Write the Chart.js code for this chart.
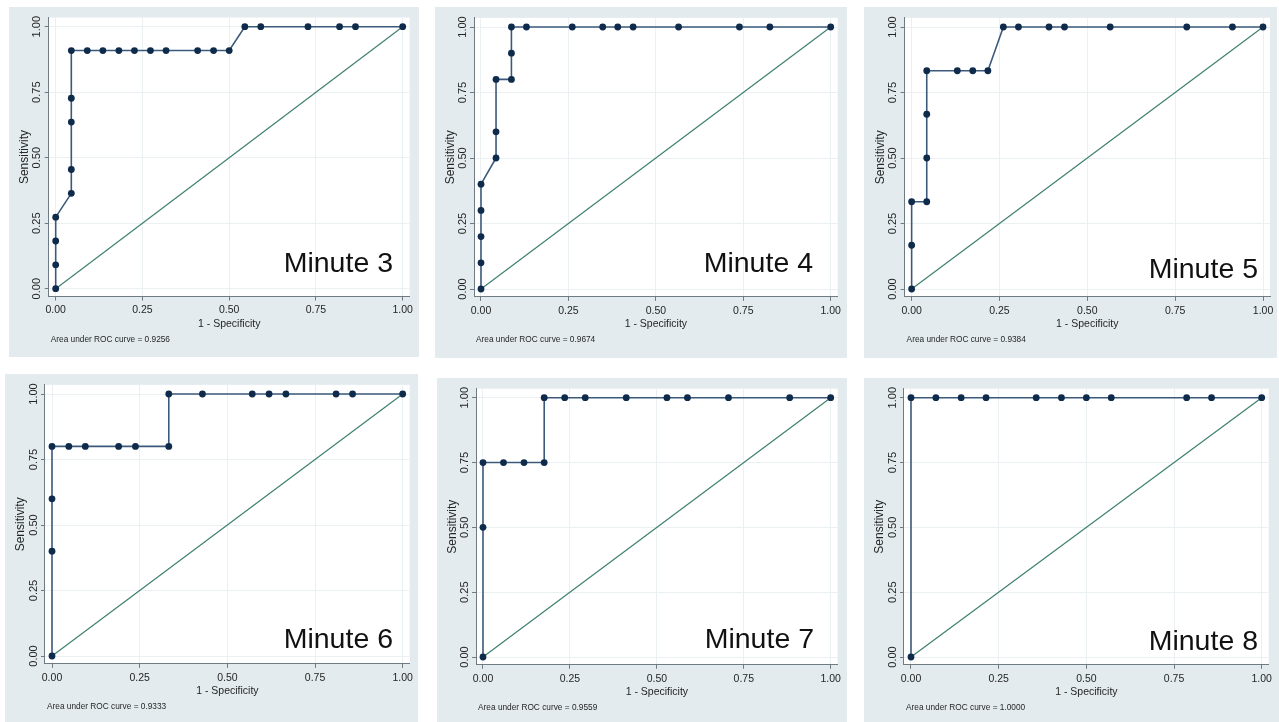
<!DOCTYPE html>
<html><head><meta charset="utf-8">
<script src="https://cdn.jsdelivr.net/npm/chart.js@4.4.1/dist/chart.umd.min.js"></script>
<style>
html,body{margin:0;padding:0;background:#fff;width:1279px;height:722px;overflow:hidden;}
.panel{position:absolute;background:#e3ebee;}
canvas{display:block;}
</style></head><body>
<script>
// ---------- data ----------
const axisTicks = [0, 0.25, 0.5, 0.75, 1];
const axisTickLabels = ['0.00', '0.25', '0.50', '0.75', '1.00'];
const panelTitles = ['Minute 3', 'Minute 4', 'Minute 5', 'Minute 6', 'Minute 7', 'Minute 8'];
const aucValues = ['0.9256', '0.9674', '0.9384', '0.9333', '0.9559', '1.0000'];
const xAxisTitle = '1 - Specificity';
const yAxisTitle = 'Sensitivity';
const aucPrefix = 'Area under ROC curve = ';

const chanceFpr = [0, 1];
const chanceSens = [0, 1];

const minute3Fpr  = [0, 0, 0, 0, 0.045, 0.045, 0.045, 0.045, 0.045, 0.091, 0.136, 0.182, 0.227, 0.273, 0.318, 0.409, 0.455, 0.5, 0.545, 0.591, 0.727, 0.818, 0.864, 1];
const minute3Sens = [0, 0.091, 0.182, 0.273, 0.364, 0.455, 0.636, 0.727, 0.909, 0.909, 0.909, 0.909, 0.909, 0.909, 0.909, 0.909, 0.909, 0.909, 1, 1, 1, 1, 1, 1];

const minute4Fpr  = [0, 0, 0, 0, 0, 0.043, 0.043, 0.043, 0.087, 0.087, 0.087, 0.13, 0.261, 0.348, 0.391, 0.435, 0.565, 0.739, 0.826, 1];
const minute4Sens = [0, 0.1, 0.2, 0.3, 0.4, 0.5, 0.6, 0.8, 0.8, 0.9, 1, 1, 1, 1, 1, 1, 1, 1, 1, 1];

const minute5Fpr  = [0, 0, 0, 0.043, 0.043, 0.043, 0.043, 0.13, 0.174, 0.217, 0.261, 0.304, 0.391, 0.435, 0.565, 0.783, 0.913, 1];
const minute5Sens = [0, 0.167, 0.333, 0.333, 0.5, 0.667, 0.833, 0.833, 0.833, 0.833, 1, 1, 1, 1, 1, 1, 1, 1];

const minute6Fpr  = [0, 0, 0, 0, 0.048, 0.095, 0.19, 0.238, 0.333, 0.333, 0.429, 0.571, 0.619, 0.667, 0.81, 0.857, 1];
const minute6Sens = [0, 0.4, 0.6, 0.8, 0.8, 0.8, 0.8, 0.8, 0.8, 1, 1, 1, 1, 1, 1, 1, 1];

const minute7Fpr  = [0, 0, 0, 0.059, 0.118, 0.176, 0.176, 0.235, 0.294, 0.412, 0.529, 0.588, 0.706, 0.882, 1];
const minute7Sens = [0, 0.5, 0.75, 0.75, 0.75, 0.75, 1, 1, 1, 1, 1, 1, 1, 1, 1];

const minute8Fpr  = [0, 0, 0.071, 0.143, 0.214, 0.357, 0.429, 0.5, 0.571, 0.786, 0.857, 1];
const minute8Sens = [0, 1, 1, 1, 1, 1, 1, 1, 1, 1, 1, 1];

const seriesFpr  = [minute3Fpr, minute4Fpr, minute5Fpr, minute6Fpr, minute7Fpr, minute8Fpr];
const seriesSens = [minute3Sens, minute4Sens, minute5Sens, minute6Sens, minute7Sens, minute8Sens];

// ---------- layout (page pixels) ----------
const XMIN = -0.02, XMAX = 1.02, YMIN = -0.03, YMAX = 1.035;
const Y_W = 31, X_H = 33.5;
const layouts = [
  {bg: [9, 7, 419, 357],    x0: 55.7,  x1: 402.7,  y0: 288.7, y1: 26.7,  lblR: 393,  lblB: 272},
  {bg: [435, 7, 847, 358],  x0: 481,   x1: 830.7,  y0: 289,   y1: 27,    lblR: 813,  lblB: 272},
  {bg: [864, 7, 1277, 358], x0: 911.7, x1: 1266,   y0: 289,   y1: 27,    lblR: 1258, lblB: 278},
  {bg: [5, 374, 418, 722],  x0: 52,    x1: 402.7,  y0: 656,   y1: 394,   lblR: 393,  lblB: 648},
  {bg: [437, 378, 847, 722],x0: 483,   x1: 830.7,  y0: 657,   y1: 397.7, lblR: 814,  lblB: 648},
  {bg: [864, 378, 1279, 722],x0: 911,  x1: 1261.7, y0: 657,   y1: 397.7, lblR: 1258, lblB: 650},
];

const FONT = "'Liberation Sans', Arial, Helvetica, sans-serif";
const AXIS_COL = '#6f7b83';
const TEXT_COL = '#262626';
const GRID_COL = '#ebf0f2';

const panelTextPlugin = {
  id: 'panelText',
  beforeDraw(chart) {
    const a = chart.chartArea, ctx = chart.ctx;
    ctx.save();
    ctx.fillStyle = '#ffffff';
    ctx.fillRect(a.left, a.top, a.right - a.left, a.bottom - a.top);
    ctx.restore();
  },
  afterDraw(chart, args, opts) {
    const ctx = chart.ctx, a = chart.chartArea, ys = chart.scales.y;
    ctx.save();
    ctx.fillStyle = TEXT_COL;
    ctx.font = '11px ' + FONT;
    ctx.textAlign = 'center';
    ctx.textBaseline = 'middle';
    axisTicks.forEach((v, i) => {
      const py = ys.getPixelForValue(v);
      ctx.save();
      ctx.translate(a.left - 11.5, py);
      ctx.rotate(-Math.PI / 2);
      ctx.fillText(axisTickLabels[i], 0, 0);
      ctx.restore();
    });
    ctx.font = '8.3px ' + FONT;
    ctx.textAlign = 'left';
    ctx.fillText(aucPrefix + opts.auc, a.left + 2, a.bottom + 43);
    ctx.font = '28.5px ' + FONT;
    ctx.fillStyle = '#111111';
    ctx.textAlign = 'right';
    ctx.textBaseline = 'alphabetic';
    ctx.fillText(opts.label, opts.lx, opts.ly);
    ctx.restore();
  }
};

layouts.forEach((lay, k) => {
  const [bx0, by0, bx1, by1] = lay.bg;
  const W = bx1 - bx0, H = by1 - by0;
  const ux = lay.x1 - lay.x0, uy = lay.y0 - lay.y1;
  const L = lay.x0 + XMIN * ux, R = lay.x0 + XMAX * ux;
  const B = lay.y0 - YMIN * uy, T = lay.y0 - YMAX * uy;

  const div = document.createElement('div');
  div.className = 'panel';
  div.style.left = bx0 + 'px'; div.style.top = by0 + 'px';
  div.style.width = W + 'px'; div.style.height = H + 'px';
  const cv = document.createElement('canvas');
  cv.width = W; cv.height = H;
  cv.style.width = W + 'px'; cv.style.height = H + 'px';
  div.appendChild(cv);
  document.body.appendChild(div);

  const rocPts = seriesFpr[k].map((x, i) => ({x: x, y: seriesSens[k][i]}));
  const chancePts = chanceFpr.map((x, i) => ({x: x, y: chanceSens[i]}));

  new Chart(cv, {
    type: 'scatter',
    data: {
      datasets: [
        {
          data: rocPts, showLine: true, borderColor: '#3b5a7b', borderWidth: 1.6,
          pointRadius: 3.4, pointBackgroundColor: '#0f2b4c', pointBorderWidth: 0,
          pointHoverRadius: 3.4, tension: 0
        },
        {
          data: chancePts, showLine: true, borderColor: '#3f8070', borderWidth: 1.2,
          pointRadius: 0, pointHoverRadius: 0
        }
      ]
    },
    options: {
      responsive: false, animation: false, devicePixelRatio: 1,
      events: [],
      layout: {padding: {left: L - bx0 - Y_W, top: T - by0, right: bx1 - R, bottom: by1 - B - X_H}},
      plugins: {
        legend: {display: false}, tooltip: {enabled: false},
        panelText: {auc: aucValues[k], label: panelTitles[k], lx: lay.lblR - bx0, ly: lay.lblB - by0}
      },
      scales: {
        x: {
          type: 'linear', position: 'bottom', min: XMIN, max: XMAX,
          afterBuildTicks: s => { s.ticks = axisTicks.map(v => ({value: v})); },
          afterFit: s => { s.height = X_H; },
          ticks: {
            autoSkip: false, maxRotation: 0, minRotation: 0, padding: 3.7, color: TEXT_COL,
            font: {family: FONT, size: 10.5},
            callback: v => axisTickLabels[axisTicks.indexOf(v)]
          },
          grid: {color: GRID_COL, lineWidth: 1, tickLength: 4, tickColor: AXIS_COL, drawTicks: true},
          border: {display: true, color: AXIS_COL, width: 1},
          title: {display: true, text: xAxisTitle, color: TEXT_COL, padding: {top: 0, bottom: 0},
                  font: {family: FONT, size: 10.5}}
        },
        y: {
          type: 'linear', position: 'left', min: YMIN, max: YMAX,
          afterBuildTicks: s => { s.ticks = axisTicks.map(v => ({value: v})); },
          afterFit: s => { s.width = Y_W; },
          ticks: {display: false},
          grid: {color: GRID_COL, lineWidth: 1, tickLength: 4, tickColor: AXIS_COL, drawTicks: true},
          border: {display: true, color: AXIS_COL, width: 1},
          title: {display: true, text: yAxisTitle, color: TEXT_COL, padding: {top: 0, bottom: 0},
                  font: {family: FONT, size: 12}}
        }
      }
    },
    plugins: [panelTextPlugin]
  });
});
</script>
</body></html>
